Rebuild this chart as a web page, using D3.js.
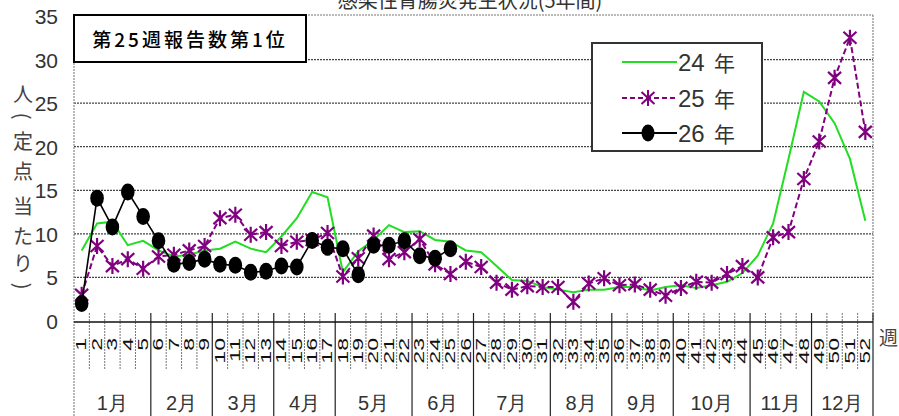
<!DOCTYPE html>
<html>
<head>
<meta charset="utf-8">
<script src="https://cdn.jsdelivr.net/npm/d3@7"></script>
<style>
  html, body { margin: 0; padding: 0; background: #fff; }
  svg { display: block; }
</style>
</head>
<body>
<svg id="chart" width="899" height="416"></svg>
<script>
// Weekly reports of infectious gastroenteritis per sentinel site
const weeks = [1,2,3,4,5,6,7,8,9,10,11,12,13,14,15,16,17,18,19,20,21,22,23,24,25,26,
  27,28,29,30,31,32,33,34,35,36,37,38,39,40,41,42,43,44,45,46,47,48,49,50,51,52];
const months = ["1月","2月","3月","4月","5月","6月","7月","8月","9月","10月","11月","12月"];
const weeksPerMonth = [5,4,4,4,5,4,5,4,4,5,4,4];
const yTicks = [0,5,10,15,20,25,30,35];
const seriesNames = ["24 年", "25 年", "26 年"];

const h24 = [8.1,11.2,11.4,8.7,9.2,8.1,7.4,7.6,8.1,8.3,9.1,8.3,7.9,9.7,11.8,14.8,14.2,5.6,8.0,9.3,
  11.0,10.2,10.3,9.3,9.1,8.1,7.9,6.3,4.7,4.6,3.9,3.6,3.3,3.6,3.6,3.9,3.9,3.5,3.9,4.1,
  3.8,4.1,4.5,5.5,7.5,11.2,18.6,26.3,25.2,22.7,18.6,11.5];
const h25 = [3.0,8.6,6.3,7.1,6.0,7.4,7.6,8.1,8.6,11.8,12.2,9.9,10.2,8.6,9.1,9.3,10.1,5.1,7.2,9.8,
  7.1,7.9,9.4,6.5,5.4,6.8,6.2,4.4,3.6,4.0,3.9,3.9,2.2,4.3,4.9,4.1,4.2,3.6,2.9,3.8,
  4.5,4.4,5.4,6.3,5.0,9.6,10.2,16.3,20.6,27.9,32.5,21.7];
const h26 = [2.0,14.1,10.8,14.8,12.0,9.2,6.5,6.7,7.1,6.5,6.4,5.6,5.7,6.3,6.2,9.25,8.45,8.3,5.3,8.7,
  8.7,9.2,7.5,7.2,8.3];

const title = "感染性胃腸炎発生状況(5年間)";
const note = "第25週報告数第1位";
// vertical unit label, one glyph per row; brackets are turned a quarter
const yLabelChars = ["人","(","定","点","当","た","り",")"];
const yLabelRows = [93, 116, 140, 170, 205, 235, 262, 286];
const weekUnit = "週";

const narrow = "'Liberation Sans Narrow','Arial Narrow','Liberation Sans',sans-serif";
const cjk = "'Noto Sans CJK JP','Noto Sans CJK SC',sans-serif";

const svg = d3.select("#chart");
const plot = { left: 74, right: 873, top: 15, bottom: 321 };

const x = d3.scaleBand().domain(weeks).range([plot.left, plot.right]).padding(0);
const cx = w => x(w) + x.bandwidth() / 2;
const y = d3.scaleLinear().domain([0, 35]).range([plot.bottom, 16]);

// title (partly above the frame)
svg.append("text")
  .attr("x", 470).attr("y", 8)
  .attr("text-anchor", "middle")
  .attr("font-family", cjk).attr("font-size", 20)
  .attr("fill", "#333")
  .text(title);

// horizontal grid
svg.append("g").selectAll("line")
  .data(yTicks.filter(t => t > 0 && t < 35))
  .join("line")
  .attr("x1", plot.left).attr("x2", plot.right)
  .attr("y1", d => y(d)).attr("y2", d => y(d))
  .attr("stroke", "#444").attr("stroke-width", 1.3)
  .attr("stroke-dasharray", "2,1");

// frame: dotted top, left and right
svg.append("line").attr("x1", plot.left).attr("x2", plot.right)
  .attr("y1", plot.top).attr("y2", plot.top)
  .attr("stroke", "#777").attr("stroke-width", 1.2).attr("stroke-dasharray", "2,1");
svg.append("line").attr("x1", plot.left).attr("x2", plot.left)
  .attr("y1", plot.top).attr("y2", 416)
  .attr("stroke", "#888").attr("stroke-width", 1.2).attr("stroke-dasharray", "2,1");
svg.append("line").attr("x1", plot.right).attr("x2", plot.right)
  .attr("y1", plot.top).attr("y2", plot.bottom)
  .attr("stroke", "#888").attr("stroke-width", 1.2).attr("stroke-dasharray", "2,1");

// y axis labels
const yAxis = d3.axisLeft(y).tickValues(yTicks).tickSize(0).tickPadding(0);
const yg = svg.append("g").attr("transform", `translate(58,0)`).call(yAxis);
yg.select(".domain").remove();
yg.selectAll("text")
  .attr("font-family", narrow).attr("font-size", 21)
  .attr("fill", "#333").attr("dy", "0.36em");

// vertical unit label
svg.append("g").selectAll("text")
  .data(yLabelChars)
  .join("text")
  .attr("transform", (d, i) => {
    const t = `translate(23,${yLabelRows[i]})`;
    return (d === "(" || d === ")") ? t + " rotate(90)" : t;
  })
  .attr("text-anchor", "middle").attr("dominant-baseline", "central")
  .attr("font-family", cjk).attr("font-size", 20).attr("fill", "#444")
  .text(d => d);

// week separators below the plot
const monthEnds = [];
weeksPerMonth.reduce((acc, n) => { monthEnds.push(acc + n); return acc + n; }, 0);
svg.append("g").selectAll("line")
  .data(weeks.slice(0, -1).filter(w => !monthEnds.includes(w)))
  .join("line")
  .attr("x1", w => x(w) + x.bandwidth()).attr("x2", w => x(w) + x.bandwidth())
  .attr("y1", 313).attr("y2", 370)
  .attr("stroke", "#777").attr("stroke-width", 1).attr("stroke-dasharray", "2,1");
svg.append("g").selectAll("line")
  .data(monthEnds)
  .join("line")
  .attr("x1", w => x(w) + x.bandwidth()).attr("x2", w => x(w) + x.bandwidth())
  .attr("y1", 313).attr("y2", 416)
  .attr("stroke", "#222").attr("stroke-width", 1.2);

// x axis line
svg.append("line").attr("x1", plot.left).attr("x2", plot.right)
  .attr("y1", plot.bottom + 1).attr("y2", plot.bottom + 1)
  .attr("stroke", "#111").attr("stroke-width", 1.5);

// week numbers, rotated
svg.append("g").selectAll("text")
  .data(weeks)
  .join("text")
  .attr("transform", w => `translate(${cx(w)},338) rotate(-90) scale(1.65,1)`)
  .attr("text-anchor", "end").attr("dominant-baseline", "central")
  .attr("font-family", "'Liberation Sans',sans-serif").attr("font-size", 14)
  .attr("fill", "#111")
  .text(w => w);

// month names
let startW = 0;
const monthPos = weeksPerMonth.map(n => {
  const a = weeks[startW], b = weeks[startW + n - 1];
  startW += n;
  return (x(a) + x(b) + x.bandwidth()) / 2;
});
svg.append("g").selectAll("text")
  .data(months)
  .join("text")
  .attr("x", (d, i) => monthPos[i]).attr("y", 403)
  .attr("text-anchor", "middle").attr("dominant-baseline", "central")
  .attr("font-family", narrow).attr("font-size", 20).attr("fill", "#333")
  .text(d => d);

svg.append("text").attr("x", 879).attr("y", 336)
  .attr("dominant-baseline", "central")
  .attr("font-family", cjk).attr("font-size", 19).attr("fill", "#444")
  .text(weekUnit);

// series
const line = d3.line().x((d, i) => cx(weeks[i])).y(d => y(d));

svg.append("path").datum(h24)
  .attr("d", line).attr("fill", "none")
  .attr("stroke", "#22dd22").attr("stroke-width", 2);

const purple = "#800080";
svg.append("path").datum(h25)
  .attr("d", line).attr("fill", "none")
  .attr("stroke", purple).attr("stroke-width", 2).attr("stroke-dasharray", "6,3");

const star = "M0,-8L0,8M-6.5,-6L6.5,6M-6.5,6L6.5,-6";
svg.append("g").selectAll("path")
  .data(h25)
  .join("path")
  .attr("transform", (d, i) => `translate(${cx(weeks[i])},${y(d)})`)
  .attr("d", star).attr("fill", "none")
  .attr("stroke", purple).attr("stroke-width", 2.2);

svg.append("path").datum(h26)
  .attr("d", line).attr("fill", "none")
  .attr("stroke", "#000").attr("stroke-width", 1.6);
svg.append("g").selectAll("ellipse")
  .data(h26)
  .join("ellipse")
  .attr("cx", (d, i) => cx(weeks[i])).attr("cy", d => y(d))
  .attr("rx", 6.8).attr("ry", 8.5)
  .attr("fill", "#000");

// annotation box
svg.append("rect")
  .attr("x", 74).attr("y", 15).attr("width", 232).attr("height", 47)
  .attr("fill", "#fff").attr("stroke", "#000").attr("stroke-width", 2);
svg.append("text")
  .attr("x", 190).attr("y", 38)
  .attr("text-anchor", "middle").attr("dominant-baseline", "central")
  .attr("font-family", cjk).attr("font-size", 19).attr("font-weight", 500)
  .attr("letter-spacing", 3).attr("fill", "#000")
  .text(note);

// legend
const lg = svg.append("g");
lg.append("rect")
  .attr("x", 592).attr("y", 43).attr("width", 170).attr("height", 108)
  .attr("fill", "#fff").attr("stroke", "#333").attr("stroke-width", 2);
const legendY = [62, 98, 133];
const styles = [
  { stroke: "#22dd22", dash: null },
  { stroke: purple, dash: "5,3" },
  { stroke: "#000", dash: null }
];
seriesNames.forEach((name, i) => {
  lg.append("line")
    .attr("x1", 622).attr("x2", 677)
    .attr("y1", legendY[i]).attr("y2", legendY[i])
    .attr("stroke", styles[i].stroke).attr("stroke-width", 2)
    .attr("stroke-dasharray", styles[i].dash);
  const parts = name.split(" ");
  const t = lg.append("text")
    .attr("y", legendY[i]).attr("dominant-baseline", "central").attr("fill", "#333");
  t.append("tspan").attr("x", 678)
    .attr("font-family", narrow).attr("font-size", 24).text(parts[0]);
  t.append("tspan").attr("x", 714)
    .attr("font-family", cjk).attr("font-size", 21).text(parts[1]);
});
lg.append("path").attr("transform", `translate(648,${legendY[1]})`)
  .attr("d", star).attr("fill", "none").attr("stroke", purple).attr("stroke-width", 2);
lg.append("ellipse").attr("cx", 648).attr("cy", legendY[2])
  .attr("rx", 6.5).attr("ry", 8.5).attr("fill", "#000");
</script>
</body>
</html>
